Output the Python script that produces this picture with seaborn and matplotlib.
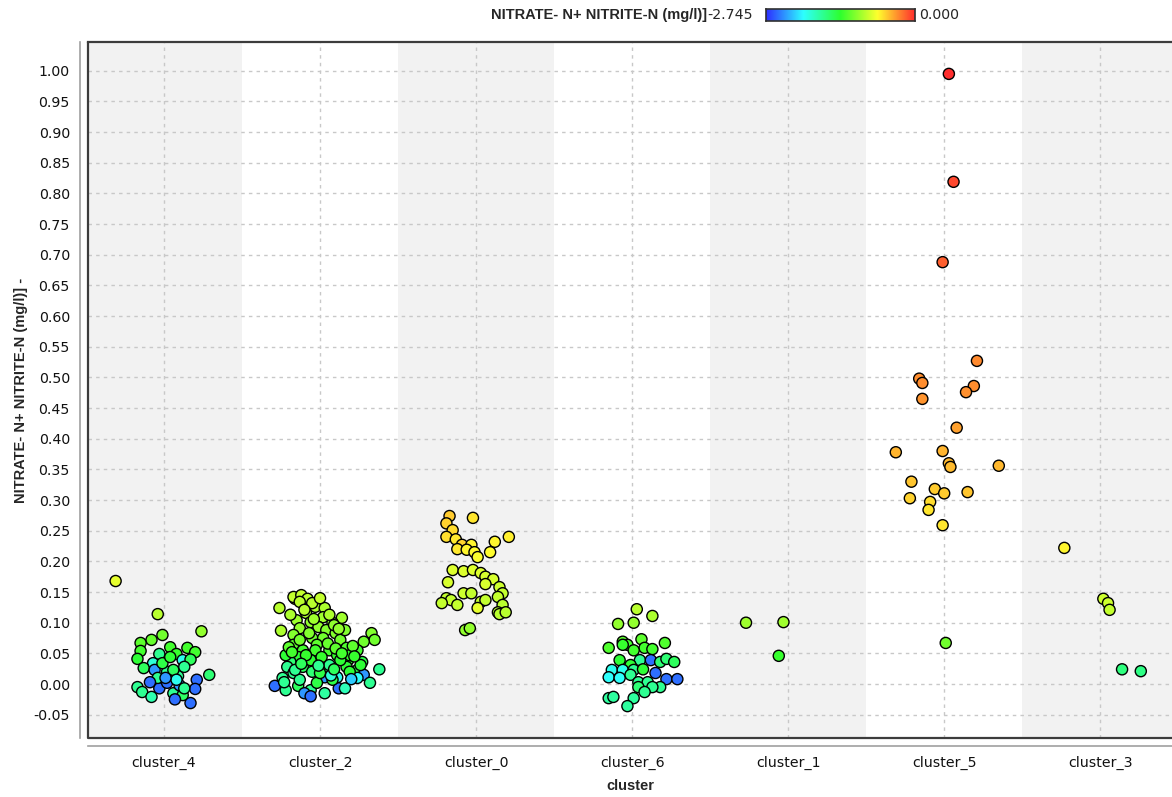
import numpy as np
import pandas as pd
import matplotlib
matplotlib.use("Agg")
import matplotlib.pyplot as plt
import matplotlib.colors as mcolors
import seaborn as sns

# ---------------- data ----------------
clusters = ["cluster_4", "cluster_2", "cluster_0", "cluster_6", "cluster_1", "cluster_5", "cluster_3"]

# per cluster: horizontal jitter (in category units), plotted value, true value used for colour
cluster_4_dx = [-0.31, -0.04, 0.24, -0.01, -0.08, -0.15, 0.04, 0.15, -0.15, 0.20, 0.08, -0.03, -0.17, 0.12,
                0.17, -0.07, -0.13, 0.02, -0.06, 0.09, 0.29, 0.21, 0.20, 0.17, -0.17, -0.14, -0.08, -0.03,
                0.06, 0.12, 0.07, 0.02, 0.10, -0.04, 0.06, -0.01, 0.04, 0.13, -0.09, 0.08, 0.01, 0.13]
cluster_4_y = [0.168, 0.114, 0.086, 0.080, 0.072, 0.067, 0.060, 0.059, 0.054, 0.052, 0.049, 0.049, 0.041, 0.039,
               0.040, 0.034, 0.026, 0.020, 0.023, 0.013, 0.015, 0.007, -0.008, -0.031, -0.005, -0.013, -0.021, -0.007,
               -0.015, -0.018, -0.025, 0.002, -0.002, 0.010, 0.023, 0.034, 0.044, 0.028, 0.003, 0.007, 0.010, -0.007]
cluster_4_val = [0.17, 0.12, 0.09, 0.07, 0.065, 0.06, 0.05, 0.05, 0.05, 0.05, 0.045, 0.02, 0.04, 0.01,
                 0.03, 0.012, 0.03, 0.02, 0.004, 0.02, 0.025, 0.003, 0.003, 0.003, 0.02, 0.02, 0.016, 0.003,
                 0.02, 0.028, 0.003, 0.003, 0.004, 0.02, 0.03, 0.035, 0.04, 0.02, 0.003, 0.01, 0.004, 0.02]

cluster_2_dx = [-0.26, -0.16, -0.17, -0.12, -0.08, -0.25, -0.03, 0.03, -0.09, -0.15, 0.02, 0.14, -0.06, 0.08,
                -0.01, -0.13, 0.04, -0.17, 0.10, 0.33, 0.35, 0.28, -0.05, 0.02, 0.13, -0.17, -0.02, 0.17,
                0.24, -0.11, 0.06, 0.11, -0.14, -0.02, -0.19, 0.18, 0.27, -0.21, -0.11, 0.04, 0.17, 0.24,
                0.38, -0.17, -0.05, 0.11, 0.28, 0.24, 0.32, -0.29, 0.03, 0.12, -0.14, -0.06, -0.10, -0.02,
                0.08, -0.24, -0.13, -0.19, 0.06, -0.13, 0.16, -0.03, 0.19, -0.22, -0.06, 0.06, 0.13, -0.16,
                0.00, 0.19, -0.22, 0.03, 0.16, 0.26, -0.13, -0.05, 0.00, -0.06,
                -0.10, -0.04, 0.09, 0.12, -0.20, -0.07, 0.05, 0.10, 0.21, -0.18, -0.09, 0.01, 0.14, 0.22,
                -0.12, -0.01, 0.07, -0.23, 0.09, 0.20]
cluster_2_y = [0.124, 0.139, 0.142, 0.145, 0.139, 0.087, 0.126, 0.124, 0.116, 0.104, 0.109, 0.108, 0.101, 0.100,
               0.093, 0.091, 0.088, 0.080, 0.083, 0.083, 0.072, 0.069, 0.075, 0.075, 0.072, 0.064, 0.064, 0.059,
               0.055, 0.055, 0.055, 0.047, 0.044, 0.039, 0.036, 0.039, 0.036, 0.028, 0.028, 0.028, 0.028, 0.023,
               0.024, 0.018, 0.020, 0.011, 0.015, 0.010, 0.002, -0.003, 0.011, -0.007, -0.003, -0.010, -0.015, 0.002,
               0.007, 0.010, 0.007, 0.113, 0.113, 0.072, 0.088, 0.055, 0.047, 0.047, 0.039, 0.031, 0.039, 0.023,
               0.018, 0.020, -0.010, -0.015, -0.007, 0.031, 0.134, 0.132, 0.140, -0.020,
               0.121, 0.106, 0.096, 0.090, 0.060, 0.083, 0.066, 0.058, 0.062, 0.052, 0.047, 0.044, 0.050, 0.045,
               0.033, 0.030, 0.014, 0.003, 0.024, 0.008]
cluster_2_val = [0.12, 0.13, 0.13, 0.13, 0.12, 0.11, 0.11, 0.11, 0.11, 0.10, 0.10, 0.10, 0.09, 0.09,
                 0.09, 0.09, 0.08, 0.08, 0.08, 0.08, 0.07, 0.07, 0.07, 0.07, 0.07, 0.06, 0.06, 0.055,
                 0.05, 0.05, 0.05, 0.045, 0.04, 0.04, 0.025, 0.04, 0.035, 0.02, 0.03, 0.025, 0.04, 0.035,
                 0.02, 0.02, 0.025, 0.01, 0.004, 0.009, 0.02, 0.003, 0.004, 0.003, 0.03, 0.02, 0.004, 0.035,
                 0.035, 0.02, 0.02, 0.11, 0.11, 0.07, 0.08, 0.05, 0.045, 0.04, 0.04, 0.02, 0.04, 0.02,
                 0.035, 0.04, 0.02, 0.018, 0.015, 0.04, 0.12, 0.12, 0.13, 0.003,
                 0.12, 0.10, 0.09, 0.09, 0.06, 0.08, 0.065, 0.06, 0.06, 0.05, 0.045, 0.045, 0.05, 0.045,
                 0.03, 0.02, 0.012, 0.02, 0.03, 0.006]

cluster_0_dx = [-0.17, -0.19, -0.02, -0.15, -0.19, -0.13, 0.21, 0.12, -0.09, -0.03, -0.12, -0.06, -0.01, 0.09,
                0.01, -0.15, -0.08, -0.02, 0.03, 0.06, 0.11, -0.18, 0.06, 0.15, 0.17, -0.08, -0.03, -0.19,
                -0.16, -0.22, -0.12, 0.14, 0.03, 0.06, 0.17, 0.01, 0.14, 0.15, 0.19, -0.07, -0.04]
cluster_0_y = [0.274, 0.262, 0.271, 0.251, 0.240, 0.236, 0.240, 0.232, 0.227, 0.227, 0.220, 0.219, 0.215, 0.215,
               0.207, 0.186, 0.184, 0.186, 0.181, 0.175, 0.171, 0.166, 0.163, 0.158, 0.148, 0.148, 0.148, 0.140,
               0.137, 0.132, 0.129, 0.142, 0.134, 0.137, 0.129, 0.124, 0.117, 0.114, 0.117, 0.088, 0.091]
cluster_0_val = [0.30, 0.29, 0.25, 0.27, 0.26, 0.24, 0.23, 0.22, 0.28, 0.22, 0.24, 0.22, 0.21, 0.21,
                 0.20, 0.16, 0.16, 0.16, 0.16, 0.15, 0.15, 0.15, 0.15, 0.14, 0.13, 0.14, 0.13, 0.13,
                 0.13, 0.13, 0.13, 0.13, 0.13, 0.13, 0.12, 0.17, 0.12, 0.12, 0.12, 0.09, 0.09]

cluster_6_dx = [0.03, 0.13, -0.09, 0.01, -0.15, -0.06, 0.06, 0.21, -0.03, 0.08, 0.01, 0.13, -0.08, 0.05,
                0.12, 0.18, 0.22, 0.27, -0.01, -0.13, -0.06, 0.01, 0.07, 0.15, -0.15, -0.08, -0.01, 0.22,
                0.29, 0.04, 0.10, 0.18, 0.13, 0.04, 0.08, -0.15, -0.12, 0.01, -0.03, -0.06]
cluster_6_y = [0.122, 0.111, 0.098, 0.100, 0.059, 0.069, 0.073, 0.067, 0.064, 0.059, 0.055, 0.057, 0.039, 0.039,
               0.039, 0.036, 0.041, 0.036, 0.031, 0.023, 0.023, 0.023, 0.024, 0.018, 0.011, 0.010, 0.015, 0.008,
               0.008, 0.003, 0.003, -0.005, -0.005, -0.005, -0.013, -0.023, -0.021, -0.023, -0.036, 0.064]
cluster_6_val = [0.12, 0.11, 0.09, 0.09, 0.055, 0.06, 0.06, 0.055, 0.05, 0.05, 0.05, 0.05, 0.04, 0.02,
                 0.003, 0.025, 0.025, 0.03, 0.04, 0.01, 0.01, 0.02, 0.04, 0.003, 0.009, 0.009, 0.02, 0.003,
                 0.003, 0.02, 0.02, 0.02, 0.02, 0.025, 0.02, 0.018, 0.018, 0.018, 0.018, 0.045]

cluster_1_dx = [-0.27, -0.03, -0.06]
cluster_1_y = [0.100, 0.101, 0.046]
cluster_1_val = [0.10, 0.10, 0.045]

cluster_5_dx = [0.03, 0.06, -0.01, 0.21, -0.16, -0.14, 0.19, 0.14, -0.14, 0.08, -0.31, -0.01, 0.03, 0.04,
                0.35, -0.21, -0.06, 0.00, 0.15, -0.22, -0.09, -0.10, -0.01, 0.01]
cluster_5_y = [0.995, 0.819, 0.688, 0.527, 0.498, 0.491, 0.486, 0.476, 0.465, 0.418, 0.378, 0.380, 0.360, 0.354,
               0.356, 0.330, 0.318, 0.311, 0.313, 0.303, 0.297, 0.284, 0.259, 0.067]
cluster_5_val = [1.0, 0.82, 0.69, 0.50, 0.48, 0.48, 0.48, 0.47, 0.46, 0.42, 0.36, 0.36, 0.35, 0.34,
                 0.35, 0.32, 0.30, 0.30, 0.32, 0.29, 0.27, 0.25, 0.25, 0.07]

cluster_3_dx = [-0.23, 0.02, 0.05, 0.06, 0.14, 0.26]
cluster_3_y = [0.222, 0.139, 0.132, 0.121, 0.024, 0.021]
cluster_3_val = [0.22, 0.14, 0.14, 0.13, 0.023, 0.022]

color_min, color_max = -2.745, 0.000
y_ticks = [round(-0.05 + 0.05 * i, 2) for i in range(22)]

# ---------------- build table ----------------
groups = {
    "cluster_4": (cluster_4_dx, cluster_4_y, cluster_4_val),
    "cluster_2": (cluster_2_dx, cluster_2_y, cluster_2_val),
    "cluster_0": (cluster_0_dx, cluster_0_y, cluster_0_val),
    "cluster_6": (cluster_6_dx, cluster_6_y, cluster_6_val),
    "cluster_1": (cluster_1_dx, cluster_1_y, cluster_1_val),
    "cluster_5": (cluster_5_dx, cluster_5_y, cluster_5_val),
    "cluster_3": (cluster_3_dx, cluster_3_y, cluster_3_val),
}
rows = []
for i, name in enumerate(clusters):
    dx, yy, vv = groups[name]
    for a, b, c in zip(dx, yy, vv):
        rows.append({"cluster": name, "pos": i + a, "value": b,
                     "logv": np.clip(np.log10(c), color_min, color_max)})
df = pd.DataFrame(rows)

# rainbow colour scale (blue -> cyan -> green -> yellow -> red)
t = np.linspace(0, 1, 256)
hsv = np.stack([(1 - t) * 240 / 360, np.full_like(t, 0.82), np.ones_like(t)], axis=1)
cmap = mcolors.ListedColormap(mcolors.hsv_to_rgb(hsv))

# ---------------- figure ----------------
sns.set_style("white")
plt.rcParams["font.family"] = ["DejaVu Sans"]

W, H = 1172, 797
fig = plt.figure(figsize=(W / 100, H / 100), dpi=100)
ax = fig.add_axes([88 / W, (H - 738) / H, (W - 88) / W, (738 - 42) / H])

for i in range(0, len(clusters), 2):
    ax.axvspan(i - 0.5, i + 0.5, color="#f2f2f2", zorder=0, lw=0)

sns.scatterplot(data=df, x="pos", y="value", hue="logv", palette=cmap,
                hue_norm=(color_min, color_max), s=64, edgecolor="black",
                linewidth=1.0, legend=False, ax=ax, zorder=3)

ax.set_xlim(-0.487, 6.46)
ax.set_ylim(-0.088, 1.047)
ax.set_xticks(range(len(clusters)))
ax.set_xticklabels(clusters)
ax.set_yticks(y_ticks)
ax.set_yticklabels([f"{v:.2f}" for v in y_ticks])

ax.grid(True, color="#c8c8c8", linestyle=(0, (2.5, 3)), linewidth=1.0, zorder=1)
ax.set_axisbelow(True)

for side in ["left", "bottom"]:
    ax.spines[side].set_position(("outward", 6))
    ax.spines[side].set_color("#a0a0a0")
    ax.spines[side].set_linewidth(1.2)
ax.spines["right"].set_visible(False)
ax.spines["top"].set_color("#3c3c3c")
ax.spines["top"].set_linewidth(1.6)
ax.plot([1.0, 0, 0], [0, 0, 1], transform=ax.transAxes, color="#3c3c3c",
        lw=1.6, clip_on=False, zorder=5)

ax.tick_params(axis="both", which="both", length=4, width=1, color="#a0a0a0",
               labelsize=10.2, labelcolor="#111111", pad=3)

ax.set_xlabel("cluster", fontsize=10.5, fontweight="bold", family="Liberation Sans", labelpad=6)
ax.set_ylabel("NITRATE- N+ NITRITE-N (mg/l)] -", fontsize=10.5, fontweight="bold",
              family="Liberation Sans", labelpad=4)

# colour legend at the top
cax = fig.add_axes([766 / W, (H - 21) / H, 149 / W, 12 / H])
cax.imshow(np.linspace(0, 1, 256)[None, :], aspect="auto", cmap=cmap)
cax.set_xticks([])
cax.set_yticks([])
for sp in cax.spines.values():
    sp.set_color("#303030")
    sp.set_linewidth(1.2)
fig.text(707 / W, (H - 15) / H, "NITRATE- N+ NITRITE-N (mg/l)]", ha="right", va="center",
         fontsize=10.5, fontweight="bold", family="Liberation Sans")
fig.text(707 / W, (H - 15) / H, f"{color_min:.3f}", ha="left", va="center", fontsize=10.2)
fig.text(919 / W, (H - 15) / H, f"{color_max:.3f}", ha="left", va="center", fontsize=10.2)

fig.savefig("out.png", dpi=100)
